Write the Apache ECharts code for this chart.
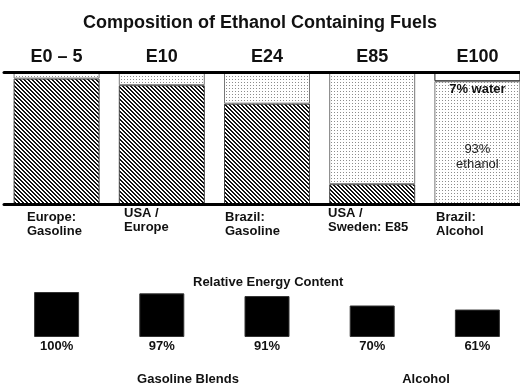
<!DOCTYPE html>
<html>
<head>
<meta charset="utf-8">
<script src="https://cdn.jsdelivr.net/npm/echarts@6/dist/echarts.min.js"></script>
<style>
  html, body { margin: 0; padding: 0; background: #fff; }
  #chart { width: 520px; height: 385px; }
</style>
</head>
<body>
<div id="chart"></div>
<script>
// Fuel grades and their volume composition (%)
const fuels = ['E0 – 5', 'E10', 'E24', 'E85', 'E100'];
const gasolineShare = [95, 90, 76, 15, 0];
const ethanolShare = [5, 10, 24, 85, 93];
const waterShare = [0, 0, 0, 0, 7];

// Where each grade is sold
const markets = ['Europe:\nGasoline', 'USA /\nEurope', 'Brazil:\nGasoline', 'USA /\nSweden: E85', 'Brazil:\nAlcohol'];

// Energy content relative to plain gasoline (%)
const energyContent = [100, 97, 91, 70, 61];
const groupLabels = ['Gasoline Blends', 'Alcohol'];

const FONT = '"Liberation Sans", Arial, Helvetica, sans-serif';

// Diagonal hatch fill used for gasoline
function hatchCanvas() {
  const c = document.createElement('canvas');
  c.width = 4; c.height = 4;
  const g = c.getContext('2d');
  g.fillStyle = '#ffffff';
  g.fillRect(0, 0, 4, 4);
  g.fillStyle = '#111111';
  for (let y = 0; y < 4; y++) {
    for (let x = 0; x < 4; x++) {
      if ((((x - y) % 4) + 4) % 4 < 2) g.fillRect(x, y, 1, 1);
    }
  }
  return c;
}

// Fine dot screen used for ethanol
function dotCanvas() {
  const c = document.createElement('canvas');
  c.width = 3; c.height = 3;
  const g = c.getContext('2d');
  g.fillStyle = '#ffffff';
  g.fillRect(0, 0, 3, 3);
  g.fillStyle = '#8c8c8c';
  g.fillRect(1, 1, 1, 1);
  return c;
}

const hatchFill = { image: hatchCanvas(), repeat: 'repeat' };
const dotFill = { image: dotCanvas(), repeat: 'repeat' };

const chart = echarts.init(document.getElementById('chart'), null, { renderer: 'canvas' });

const marketX = [27, 124, 225, 328, 436];
const marketY = [210, 206, 210, 206, 210];

chart.setOption({
  backgroundColor: '#ffffff',
  animation: false,
  title: [
    {
      text: 'Composition of Ethanol Containing Fuels',
      left: 83, top: 14, padding: 0,
      textStyle: { fontFamily: FONT, fontWeight: 'bold', fontSize: 18, color: '#111' }
    },
    {
      text: 'Relative Energy Content',
      left: 193, top: 276, padding: 0,
      textStyle: { fontFamily: FONT, fontWeight: 'bold', fontSize: 13, color: '#111' }
    }
  ],
  grid: [
    { left: 4, right: -10, top: 72, bottom: 181, outerBoundsMode: 'none', containLabel: false },
    { left: 4, right: -10, top: 292, bottom: 48, outerBoundsMode: 'none', containLabel: false }
  ],
  xAxis: [
    {
      gridIndex: 0, type: 'category', data: fuels, position: 'top', z: 5,
      axisLine: { onZero: false, lineStyle: { color: '#000', width: 3 } },
      axisTick: { show: false },
      axisLabel: { margin: 6, fontFamily: FONT, fontWeight: 'bold', fontSize: 18, color: '#111' }
    },
    {
      gridIndex: 0, type: 'category', data: fuels, position: 'bottom', z: 5,
      axisLine: { onZero: false, lineStyle: { color: '#000', width: 3 } },
      axisTick: { show: false },
      axisLabel: { show: false }
    },
    {
      gridIndex: 1, type: 'category', data: fuels, show: false
    }
  ],
  yAxis: [
    { gridIndex: 0, type: 'value', min: 0, max: 100, show: false },
    { gridIndex: 1, type: 'value', min: 0, max: 100, show: false }
  ],
  series: [
    {
      name: 'Gasoline', type: 'bar', stack: 'fuel', xAxisIndex: 0, yAxisIndex: 0,
      barWidth: 86, silent: true,
      itemStyle: { color: hatchFill, borderColor: '#444', borderWidth: 1 },
      data: gasolineShare
    },
    {
      name: 'Ethanol', type: 'bar', stack: 'fuel', xAxisIndex: 0, yAxisIndex: 0,
      barWidth: 86, silent: true,
      itemStyle: { color: dotFill, borderColor: '#777', borderWidth: 1 },
      label: {
        show: false, position: 'inside', offset: [0, 14],
        formatter: '{c}%\nethanol',
        fontFamily: FONT, fontSize: 13, lineHeight: 15, color: '#222'
      },
      data: ethanolShare.map((v, i) => waterShare[i] > 0 ? { value: v, label: { show: true } } : v)
    },
    {
      name: 'Water', type: 'bar', stack: 'fuel', xAxisIndex: 0, yAxisIndex: 0,
      barWidth: 86, silent: true,
      itemStyle: { color: '#ffffff', borderColor: '#222', borderWidth: 1 },
      label: {
        show: false, position: 'bottom', distance: 2,
        formatter: '{c}% water',
        fontFamily: FONT, fontWeight: 'bold', fontSize: 13, color: '#111'
      },
      data: waterShare.map(v => v > 0 ? { value: v, label: { show: true } } : v)
    },
    {
      name: 'Relative energy', type: 'bar', xAxisIndex: 2, yAxisIndex: 1,
      barWidth: 45, silent: true,
      itemStyle: { color: '#000', borderColor: '#333', borderWidth: 1 },
      label: {
        show: true, position: 'bottom', distance: 3,
        formatter: '{c}%',
        fontFamily: FONT, fontWeight: 'bold', fontSize: 13, color: '#111'
      },
      data: energyContent
    }
  ],
  graphic: [
    ...markets.map((m, i) => ({
      type: 'text', left: marketX[i], top: marketY[i], silent: true,
      style: {
        text: m, fill: '#111', lineHeight: 14,
        font: 'bold 13px ' + FONT
      }
    })),
    {
      type: 'text', x: 188, y: 379, silent: true,
      style: { text: groupLabels[0], fill: '#111', font: 'bold 13px ' + FONT, align: 'center', verticalAlign: 'middle' }
    },
    {
      type: 'text', x: 426, y: 379, silent: true,
      style: { text: groupLabels[1], fill: '#111', font: 'bold 13px ' + FONT, align: 'center', verticalAlign: 'middle' }
    }
  ]
});
</script>
</body>
</html>
